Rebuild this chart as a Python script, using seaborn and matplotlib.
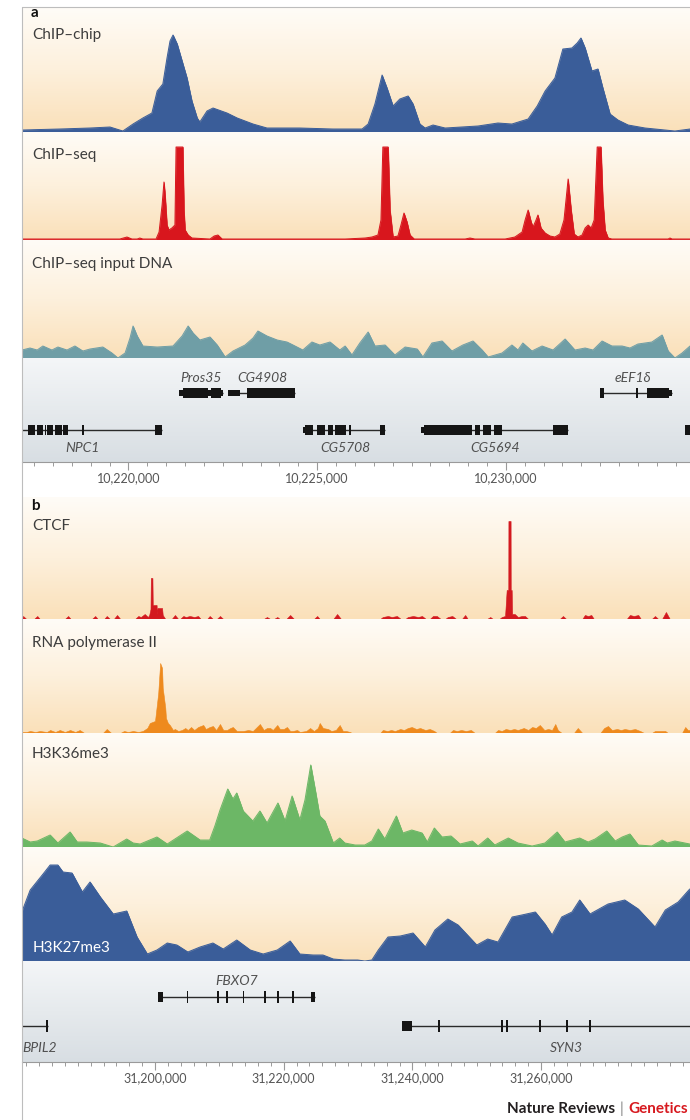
import numpy as np
import matplotlib
matplotlib.use("Agg")
import matplotlib.pyplot as plt
import seaborn as sns
from matplotlib.colors import LinearSegmentedColormap
from matplotlib.lines import Line2D
from matplotlib.patches import Rectangle
from matplotlib.ticker import FixedLocator, MultipleLocator, FuncFormatter

# ------------------------------------------------------------------ data: panel a
region_a = [10217178, 10234880]
ticks_a = [10220000, 10225000, 10230000]

chip_chip = [(10217180, 2), (10218180, 3), (10218980, 4), (10219510, 5), (10219850, 1), (10220120, 8),
             (10220380, 14), (10220620, 19), (10220760, 41), (10220910, 48), (10221020, 74), (10221100, 91),
             (10221180, 97), (10221290, 88), (10221420, 71), (10221550, 54), (10221680, 31), (10221820, 14),
             (10221890, 10), (10222080, 21), (10222240, 24), (10222610, 19), (10222880, 14), (10223300, 8),
             (10223670, 4), (10224540, 4), (10225420, 3), (10226190, 3), (10226350, 8), (10226530, 28),
             (10226720, 57), (10226850, 44), (10227010, 26), (10227190, 33), (10227410, 36), (10227540, 28),
             (10227720, 8), (10227860, 4), (10228070, 7), (10228390, 4), (10229260, 6), (10229790, 9),
             (10230160, 8), (10230590, 13), (10230830, 26), (10231040, 41), (10231300, 54), (10231510, 83),
             (10231750, 84), (10231890, 89), (10231990, 94), (10232100, 84), (10232280, 61), (10232440, 63),
             (10232570, 44), (10232760, 18), (10232970, 12), (10233240, 7), (10233690, 4), (10234480, 1),
             (10234880, 3)]

chip_seq = [(10217180, 1), (10219770, 1), (10219960, 3), (10220090, 1), (10220230, 1), (10220300, 2),
            (10220380, 1), (10220730, 1), (10220810, 8), (10220890, 35), (10220940, 58), (10220970, 45),
            (10221020, 15), (10221070, 10), (10221150, 12), (10221230, 15), (10221260, 93), (10221440, 93),
            (10221470, 30), (10221500, 10), (10221580, 5), (10221680, 2), (10222160, 1), (10222270, 4),
            (10222370, 5), (10222480, 1), (10225740, 1), (10226270, 2), (10226450, 3), (10226610, 5),
            (10226690, 20), (10226740, 93), (10226880, 93), (10226930, 30), (10227010, 3), (10227140, 4),
            (10227220, 15), (10227300, 27), (10227380, 18), (10227460, 5), (10227570, 1), (10228920, 1),
            (10229050, 2), (10229180, 1), (10229980, 1), (10230240, 3), (10230430, 8), (10230510, 20),
            (10230590, 30), (10230670, 18), (10230720, 13), (10230800, 20), (10230850, 25), (10230930, 12),
            (10231040, 7), (10231170, 4), (10231300, 3), (10231430, 6), (10231540, 20), (10231650, 61),
            (10231730, 30), (10231810, 6), (10231910, 3), (10232020, 5), (10232100, 12), (10232180, 15),
            (10232260, 12), (10232340, 20), (10232420, 93), (10232520, 93), (10232570, 40), (10232630, 10),
            (10232710, 2), (10232810, 1), (10234300, 1), (10234350, 2), (10234400, 1), (10234880, 1)]

input_dna = [(10217180, 8), (10217390, 10), (10217580, 8), (10217730, 12), (10217970, 8), (10218130, 11),
             (10218370, 8), (10218580, 12), (10218790, 7), (10218980, 9), (10219320, 11), (10219560, 5),
             (10219720, 0), (10219910, 5), (10220040, 20), (10220120, 32), (10220230, 22), (10220380, 12),
             (10220760, 11), (10221180, 12), (10221420, 22), (10221580, 32), (10221710, 25), (10221890, 18),
             (10222160, 21), (10222350, 13), (10222560, 1), (10222770, 7), (10223090, 13), (10223300, 20),
             (10223430, 27), (10223670, 22), (10223940, 18), (10224200, 16), (10224360, 13), (10224620, 8),
             (10224860, 16), (10225070, 13), (10225340, 16), (10225600, 8), (10225740, 12), (10225920, 3),
             (10226130, 15), (10226350, 26), (10226530, 12), (10226800, 13), (10227060, 3), (10227330, 11),
             (10227650, 9), (10227800, 1), (10228040, 15), (10228310, 17), (10228570, 7), (10228860, 13),
             (10229130, 17), (10229370, 8), (10229530, 1), (10229900, 5), (10230160, 13), (10230320, 8),
             (10230450, 15), (10230690, 7), (10230960, 12), (10231250, 8), (10231570, 19), (10231830, 8),
             (10232100, 10), (10232310, 8), (10232550, 17), (10232810, 12), (10233080, 12), (10233290, 10),
             (10233500, 14), (10233870, 16), (10234140, 23), (10234300, 7), (10234480, 0), (10234670, 5),
             (10234880, 12)]

# genes, panel a  (row 1 = upper, row 0 = lower)
gene_names_a = ["NPC1", "Pros35", "CG4908", "CG5708", "CG5694", "eEF1δ", ""]
gene_rows_a = [0, 1, 1, 0, 0, 1, 0]
gene_start_a = [10217000, 10221340, 10222640, 10224620, 10227750, 10232490, 10234750]
gene_end_a = [10220890, 10222500, 10224410, 10226800, 10231650, 10234400, 10235300]
gene_label_a = [10218770, 10221920, 10223540, 10225740, 10229710, 10233370, 0]
npc1_exons = [(10217340, 10217520, "c"), (10217580, 10217730, "c"), (10217780, 10217820, "c"),
              (10217840, 10218000, "c"), (10218050, 10218240, "c"), (10218260, 10218400, "c"),
              (10218770, 10218820, "c"), (10220700, 10220890, "c")]
pros35_exons = [(10221340, 10221440, "u"), (10221440, 10222110, "c"), (10222110, 10222190, "u"),
                (10222190, 10222450, "c"), (10222450, 10222500, "u")]
cg4908_exons = [(10222640, 10222950, "u"), (10223140, 10224410, "c")]
cg5708_exons = [(10224620, 10224680, "u"), (10224680, 10224890, "c"), (10225000, 10225210, "c"),
                (10225290, 10225420, "c"), (10225470, 10225760, "c"), (10225840, 10225900, "c"),
                (10226660, 10226800, "c")]
cg5694_exons = [(10227750, 10227830, "u"), (10227830, 10229100, "c"), (10229180, 10229310, "c"),
                (10229390, 10229610, "c"), (10229690, 10229900, "c"), (10231250, 10231650, "c")]
eef1d_exons = [(10232490, 10232600, "c"), (10233450, 10233510, "c"), (10233740, 10234320, "c"),
               (10234320, 10234400, "u")]
edge_exons = [(10234750, 10235300, "c")]

# ------------------------------------------------------------------ data: panel b
region_b = [31179330, 31283140]
ticks_b = [31200000, 31220000, 31240000, 31260000]

ctcf = [(31179300, 0), (31179500, 3), (31180000, 0), (31181200, 0), (31181700, 3), (31182100, 0),
        (31186000, 0), (31186500, 3), (31186900, 0), (31190200, 0), (31190700, 3), (31191100, 0),
        (31192100, 0), (31192500, 3), (31193000, 0), (31193600, 0), (31194100, 4), (31194600, 0),
        (31196900, 0), (31197400, 3), (31197800, 2), (31198400, 5), (31198900, 2), (31199100, 4),
        (31199300, 10), (31199350, 41), (31199600, 41), (31199650, 14), (31200250, 14), (31200300, 5),
        (31200400, 11), (31201100, 11), (31201200, 4), (31201600, 0), (31202600, 0), (31203100, 4),
        (31203600, 0), (31203900, 0), (31204400, 3), (31204800, 2), (31205400, 3), (31206100, 2),
        (31206700, 3), (31207100, 0), (31208100, 0), (31208500, 3), (31209000, 0), (31209600, 0),
        (31210100, 3), (31210600, 0), (31216900, 0), (31217400, 2), (31217900, 0), (31218500, 0),
        (31219000, 2), (31219400, 0), (31220400, 0), (31221000, 4), (31221600, 0), (31224700, 0),
        (31225200, 3), (31225600, 0), (31227700, 0), (31228300, 5), (31228900, 0), (31235000, 0),
        (31235400, 2), (31236200, 3), (31236800, 2), (31237600, 3), (31238200, 0), (31238900, 0),
        (31239300, 2), (31240100, 3), (31240900, 2), (31241500, 3), (31242100, 0), (31242700, 0),
        (31243200, 3), (31243800, 3), (31244400, 0), (31245100, 0), (31245500, 2), (31246200, 3),
        (31246800, 0), (31247700, 0), (31248200, 4), (31248600, 0), (31251600, 0), (31252100, 2),
        (31252500, 0), (31253500, 0), (31253900, 2), (31254400, 3), (31254650, 29), (31254900, 29),
        (31254920, 98), (31255260, 98), (31255280, 29), (31255430, 29), (31255500, 5), (31255900, 5),
        (31256400, 2), (31257000, 3), (31257500, 3), (31258000, 0), (31262900, 0), (31263400, 3),
        (31263900, 0), (31266400, 0), (31266800, 4), (31267300, 3), (31267800, 4), (31268200, 0),
        (31273300, 0), (31273800, 4), (31274400, 3), (31275100, 4), (31275500, 0), (31277200, 0),
        (31277700, 3), (31278200, 0), (31278800, 0), (31279400, 7), (31280000, 0), (31283100, 0)]

pol2 = [(31179300, 1), (31180000, 1), (31180600, 2), (31181400, 1), (31182100, 2), (31183200, 1),
        (31183700, 3), (31184500, 1), (31185200, 3), (31186000, 1), (31186800, 3), (31187600, 1),
        (31188300, 3), (31189000, 0), (31191900, 0), (31192500, 4), (31193200, 0), (31194600, 0),
        (31195200, 2), (31195800, 1), (31196600, 2), (31197400, 1), (31198100, 2), (31198800, 5),
        (31199200, 10), (31200000, 12), (31200500, 40), (31200800, 70), (31201100, 65), (31201200, 45),
        (31201600, 25), (31201700, 15), (31202000, 10), (31202300, 8), (31202800, 3), (31203100, 4),
        (31203600, 2), (31204200, 3), (31204700, 5), (31205100, 3), (31205600, 6), (31206100, 3),
        (31206700, 6), (31207500, 8), (31207900, 4), (31208500, 6), (31209000, 7), (31209500, 3),
        (31210100, 9), (31210600, 3), (31211200, 3), (31211700, 5), (31212100, 6), (31212700, 2),
        (31213700, 2), (31214500, 3), (31215200, 2), (31216300, 9), (31216900, 3), (31217400, 5),
        (31217900, 5), (31218300, 3), (31219000, 8), (31219400, 4), (31220000, 4), (31220500, 6),
        (31221000, 2), (31221400, 2), (31222100, 3), (31222500, 1), (31223500, 2), (31224100, 5),
        (31224700, 2), (31225300, 5), (31225600, 10), (31226100, 5), (31226900, 4), (31227400, 2),
        (31228100, 3), (31228700, 8), (31229200, 2), (31229700, 2), (31230300, 1), (31230600, 0),
        (31235000, 0), (31235400, 3), (31236100, 2), (31236700, 3), (31237300, 2), (31238100, 4),
        (31238700, 3), (31239300, 5), (31239900, 6), (31240600, 4), (31241200, 5), (31242000, 3),
        (31242700, 4), (31243400, 2), (31243800, 0), (31245800, 0), (31246300, 3), (31246900, 2),
        (31247600, 3), (31248300, 2), (31249100, 3), (31249700, 0), (31252800, 0), (31253300, 3),
        (31253900, 2), (31254500, 4), (31255200, 3), (31255800, 4), (31256400, 3), (31257300, 5),
        (31258000, 3), (31258600, 6), (31259200, 5), (31259800, 8), (31260500, 3), (31261100, 4),
        (31261700, 3), (31262200, 9), (31262600, 3), (31263200, 0), (31265100, 0), (31265700, 5),
        (31266400, 0), (31269200, 0), (31269800, 5), (31270400, 7), (31271000, 3), (31271800, 4),
        (31272400, 3), (31273000, 4), (31273800, 3), (31274600, 4), (31275400, 2), (31276000, 0),
        (31277200, 0), (31277700, 2), (31278500, 2), (31279300, 2), (31279700, 0), (31281900, 0),
        (31282400, 6), (31282800, 3), (31283100, 3)]

h3k36me3 = [(31179300, 9), (31180600, 5), (31181700, 6), (31183700, 12), (31184900, 4), (31186800, 15),
            (31187900, 5), (31189400, 5), (31191500, 4), (31193500, 0), (31195600, 8), (31196600, 4),
            (31197700, 3), (31200300, 10), (31201900, 3), (31205000, 16), (31207000, 7), (31208500, 7),
            (31209300, 21), (31210100, 37), (31211300, 58), (31212100, 48), (31212700, 54), (31213700, 36),
            (31215200, 26), (31216300, 36), (31217400, 24), (31219100, 44), (31220200, 26), (31221300, 51),
            (31222500, 27), (31223300, 47), (31224200, 82), (31224900, 57), (31225600, 31), (31226400, 26),
            (31227700, 4), (31228700, 9), (31229500, 4), (31231100, 2), (31232600, 2), (31233700, 6),
            (31234700, 18), (31235700, 8), (31237500, 31), (31238500, 14), (31239900, 17), (31241500, 14),
            (31242300, 5), (31243400, 19), (31244600, 10), (31246000, 11), (31247400, 3), (31249300, 6),
            (31250200, 1), (31251700, 9), (31252800, 2), (31254900, 9), (31256400, 4), (31258600, 1),
            (31260600, 4), (31262500, 15), (31263700, 5), (31266000, 9), (31267300, 5), (31268400, 8),
            (31270200, 16), (31271500, 6), (31272600, 10), (31273800, 13), (31275100, 2), (31277200, 1),
            (31278800, 7), (31279600, 4), (31280800, 6), (31283100, 3)]

h3k27me3 = [(31179300, 49), (31180600, 71), (31182600, 87), (31183700, 96), (31184900, 96), (31185700, 89),
            (31187100, 88), (31188700, 69), (31189900, 79), (31191500, 64), (31193500, 47), (31195600, 50),
            (31197200, 24), (31198800, 7), (31200300, 11), (31201900, 18), (31203400, 16), (31205100, 9),
            (31207000, 14), (31209000, 18), (31210600, 12), (31212700, 21), (31214800, 11), (31216800, 7),
            (31219000, 11), (31221000, 20), (31222500, 7), (31224600, 6), (31226100, 6), (31227700, 2),
            (31229500, 1), (31231500, 1), (31232600, 0), (31233700, 1), (31234700, 11), (31236200, 24),
            (31238100, 25), (31240100, 28), (31242000, 14), (31243500, 31), (31245500, 42), (31247100, 36),
            (31250000, 16), (31251700, 22), (31253300, 19), (31255500, 44), (31257000, 46), (31259100, 49),
            (31260600, 37), (31261700, 26), (31263200, 44), (31264800, 49), (31266000, 61), (31267600, 47),
            (31270400, 57), (31273000, 61), (31275100, 52), (31277700, 34), (31279300, 51), (31281300, 59),
            (31283100, 72)]

# genes, panel b
gene_names_b = ["BPIL2", "FBXO7", "SYN3"]
gene_rows_b = [0, 1, 0]
gene_start_b = [31170000, 31200500, 31238400]
gene_end_b = [31183350, 31224900, 31300000]
gene_label_b = [31179400, 31212700, 31263900]
bpil2_exons = [(31183050, 31183350, "t")]
fbxo7_exons = [(31200500, 31201300, "c"), (31204900, 31205200, "t"), (31209700, 31210000, "t"),
               (31211100, 31211400, "t"), (31213600, 31213900, "t"), (31217000, 31217300, "t"),
               (31218900, 31219200, "t"), (31221300, 31221600, "t"), (31224300, 31224900, "c")]
syn3_exons = [(31238400, 31239900, "c"), (31244000, 31244300, "t"), (31253800, 31254100, "t"),
              (31254600, 31254900, "t"), (31259700, 31260000, "t"), (31263900, 31264200, "t"),
              (31267500, 31267800, "t")]

# ------------------------------------------------------------------ drawing
sns.set_style("ticks")
plt.rcParams["font.family"] = ["Lato", "DejaVu Sans"]

W, H = 690, 1120
fig = plt.figure(figsize=(W / 100, H / 100), dpi=100)
fig.patch.set_facecolor("white")

peach = LinearSegmentedColormap.from_list("peach", ["#fffcf7", "#fdf0dc", "#fae0b9"])
steel = LinearSegmentedColormap.from_list("steel", ["#f4f6f8", "#e6eaed", "#d8dee3"])
grad = np.linspace(0, 1, 256).reshape(-1, 1)


def axes_px(top, bottom, left=22, right=690):
    return fig.add_axes([left / W, 1 - bottom / H, (right - left) / W, (bottom - top) / H])


def backdrop(ax, xr, height, cmap):
    ax.imshow(grad, extent=[xr[0], xr[1], 0, height], aspect="auto", cmap=cmap,
              origin="upper", interpolation="bilinear", zorder=0)


def signal_track(top, bottom, xr, pairs, color, outline=True):
    ax = axes_px(top, bottom)
    height = bottom - top
    backdrop(ax, xr, height, peach)
    pos = [p for p, _ in pairs]
    val = [v for _, v in pairs]
    ax.fill_between(pos, val, 0, facecolor=color, edgecolor=color, linewidth=0.4, zorder=2)
    if outline:
        sns.lineplot(x=pos, y=val, ax=ax, color=color, linewidth=0.7, estimator=None,
                     sort=False, legend=False, zorder=3)
    ax.set_xlim(xr)
    ax.set_ylim(0, height)
    ax.set_axis_off()
    return ax


def gene_track(top, bottom, xr, ticks, minor, names, rows, starts, ends, labx, exon_sets,
               row_y, lab_y, sizes):
    ax = axes_px(top, bottom)
    height = bottom - top
    backdrop(ax, xr, height, steel)
    for i, name in enumerate(names):
        y = row_y[rows[i]]
        ax.hlines(y, starts[i], ends[i], color="#2a2a2a", lw=1.0, zorder=2)
        for s, e, k in exon_sets[i]:
            hh = sizes[k]
            ax.add_patch(Rectangle((s, y - hh / 2), e - s, hh, facecolor="#151515",
                                   edgecolor="none", zorder=3))
        if name:
            ha = "left" if labx[i] <= xr[0] + 1000 else "center"
            ax.text(labx[i], lab_y[rows[i]], name, ha=ha, va="baseline", fontsize=10,
                    style="italic", color="#505050", zorder=4)
    ax.set_xlim(xr)
    ax.set_ylim(0, height)
    for s in ["top", "left", "right"]:
        ax.spines[s].set_visible(False)
    ax.spines["bottom"].set_color("#9a9a9a")
    ax.spines["bottom"].set_linewidth(0.8)
    ax.set_yticks([])
    ax.xaxis.set_major_locator(FixedLocator(ticks))
    ax.xaxis.set_minor_locator(MultipleLocator(minor))
    ax.xaxis.set_major_formatter(FuncFormatter(lambda v, p: f"{int(round(v)):,}"))
    ax.tick_params(axis="x", which="major", bottom=True, direction="out", length=5.5, width=0.8,
                   color="#9a9a9a", labelsize=9, labelcolor="#555555", pad=2)
    ax.tick_params(axis="x", which="minor", bottom=True, direction="out", length=3, width=0.7,
                   color="#9a9a9a")
    return ax


def ftext(x, y, s, **kw):
    fig.text(x / W, 1 - y / H, s, va="baseline", **kw)


# panel a
signal_track(8, 132, region_a, chip_chip, "#3a5d99")
signal_track(132, 240, region_a, chip_seq, "#d8161d")
signal_track(240, 358, region_a, input_dna, "#6f9ea6")
gene_track(358, 462, region_a, ticks_a, 500, gene_names_a, gene_rows_a, gene_start_a, gene_end_a,
           gene_label_a,
           [npc1_exons, pros35_exons, cg4908_exons, cg5708_exons, cg5694_exons, eef1d_exons, edge_exons],
           {1: 69, 0: 32}, {1: 80, 0: 10}, {"c": 10, "u": 6})

# panel b
signal_track(497, 619, region_b, ctcf, "#d3191f", outline=False)
signal_track(619, 733, region_b, pol2, "#ee8a1e", outline=False)
signal_track(733, 847, region_b, h3k36me3, "#6cb766")
signal_track(847, 961, region_b, h3k27me3, "#3a5d99")
gene_track(961, 1062, region_b, ticks_b, 2000, gene_names_b, gene_rows_b, gene_start_b, gene_end_b,
           gene_label_b, [bpil2_exons, fbxo7_exons, syn3_exons],
           {1: 65, 0: 36}, {1: 77, 0: 10}, {"c": 10, "t": 12})

# frame lines
fig.add_artist(Line2D([22 / W, 22 / W], [1 - 7 / H, 0], color="#bdbdbd", lw=0.8, zorder=10))
fig.add_artist(Line2D([22 / W, 1], [1 - 7 / H, 1 - 7 / H], color="#bdbdbd", lw=0.8, zorder=10))

# labels
lab = dict(fontsize=11, color="#3d3d3d")
ftext(31, 17, "a", fontsize=11, fontweight="bold", color="#111111")
ftext(32, 39, "ChIP–chip", **lab)
ftext(32, 159, "ChIP–seq", **lab)
ftext(32, 268, "ChIP–seq input DNA", **lab)
ftext(31, 510, "b", fontsize=11, fontweight="bold", color="#111111")
ftext(32, 530, "CTCF", **lab)
ftext(32, 647, "RNA polymerase II", **lab)
ftext(32, 758, "H3K36me3", **lab)
ftext(33, 952, "H3K27me3", fontsize=11, color="white")

ftext(507, 1113, "Nature Reviews", fontsize=11, fontweight="bold", color="#231f20")
ftext(620, 1113, "|", fontsize=11, color="#808080")
ftext(628, 1113, "Genetics", fontsize=11, fontweight="bold", color="#d7191f")

fig.savefig("out.png", dpi=100)
